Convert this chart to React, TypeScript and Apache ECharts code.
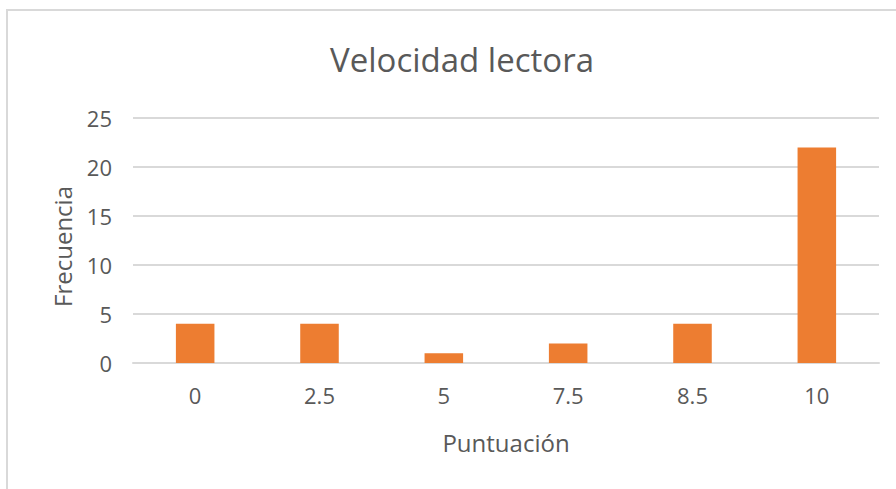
import React, { useEffect, useRef } from "react";
import * as echarts from "echarts";

const categories = ["0", "2.5", "5", "7.5", "8.5", "10"];
const frequencies = [4, 4, 1, 2, 4, 22];
const titleText = "Velocidad lectora";
const xName = "Puntuación";
const yName = "Frecuencia";

export default function App() {
  const ref = useRef<HTMLDivElement>(null);
  useEffect(() => {
    if (!ref.current) return;
    const chart = echarts.init(ref.current, null, { renderer: "svg" });
    const font = "'Open Sans', 'Noto Sans', sans-serif";
    chart.setOption({
      animation: false,
      backgroundColor: "#ffffff",
      textStyle: { fontFamily: font },
      title: {
        text: titleText,
        left: 457,
        top: 38,
        textAlign: "center",
        textStyle: { fontSize: 33, fontWeight: "normal", color: "#595959", fontFamily: font },
      },
      graphic: [
        {
          type: "rect",
          shape: { x: 7, y: 10, width: 1000, height: 1000 },
          style: { fill: "none", stroke: "#d9d9d9", lineWidth: 2 },
          silent: true,
        },
      ],
      grid: { left: 133, right: 17, top: 118, bottom: 126, containLabel: false },
      xAxis: {
        type: "category",
        data: categories,
        name: xName,
        nameLocation: "middle",
        nameGap: 67,
        nameTextStyle: { fontSize: 24, color: "#595959", fontFamily: font },
        axisLine: { show: true, lineStyle: { color: "#d9d9d9", width: 2 } },
        axisTick: { show: false },
        axisLabel: { fontSize: 22, color: "#595959", margin: 21, fontFamily: font },
      },
      yAxis: {
        type: "value",
        min: 0,
        max: 25,
        interval: 5,
        name: yName,
        nameLocation: "middle",
        nameGap: 59,
        nameRotate: 90,
        nameTextStyle: { fontSize: 24, color: "#595959", fontFamily: font, padding: [0, 12, 0, 0] },
        axisLine: { show: false },
        axisTick: { show: false },
        axisLabel: { fontSize: 22, color: "#595959", margin: 21, fontFamily: font },
        splitLine: { lineStyle: { color: "#d9d9d9", width: 2 } },
      },
      series: [
        {
          type: "bar",
          data: frequencies,
          barWidth: "31%",
          itemStyle: { color: "#ED7D31" },
        },
      ],
    });
    return () => chart.dispose();
  }, []);
  return (
    <div
      ref={ref}
      style={{ position: "absolute", left: 0, top: 0, width: 896, height: 489 }}
    />
  );
}
